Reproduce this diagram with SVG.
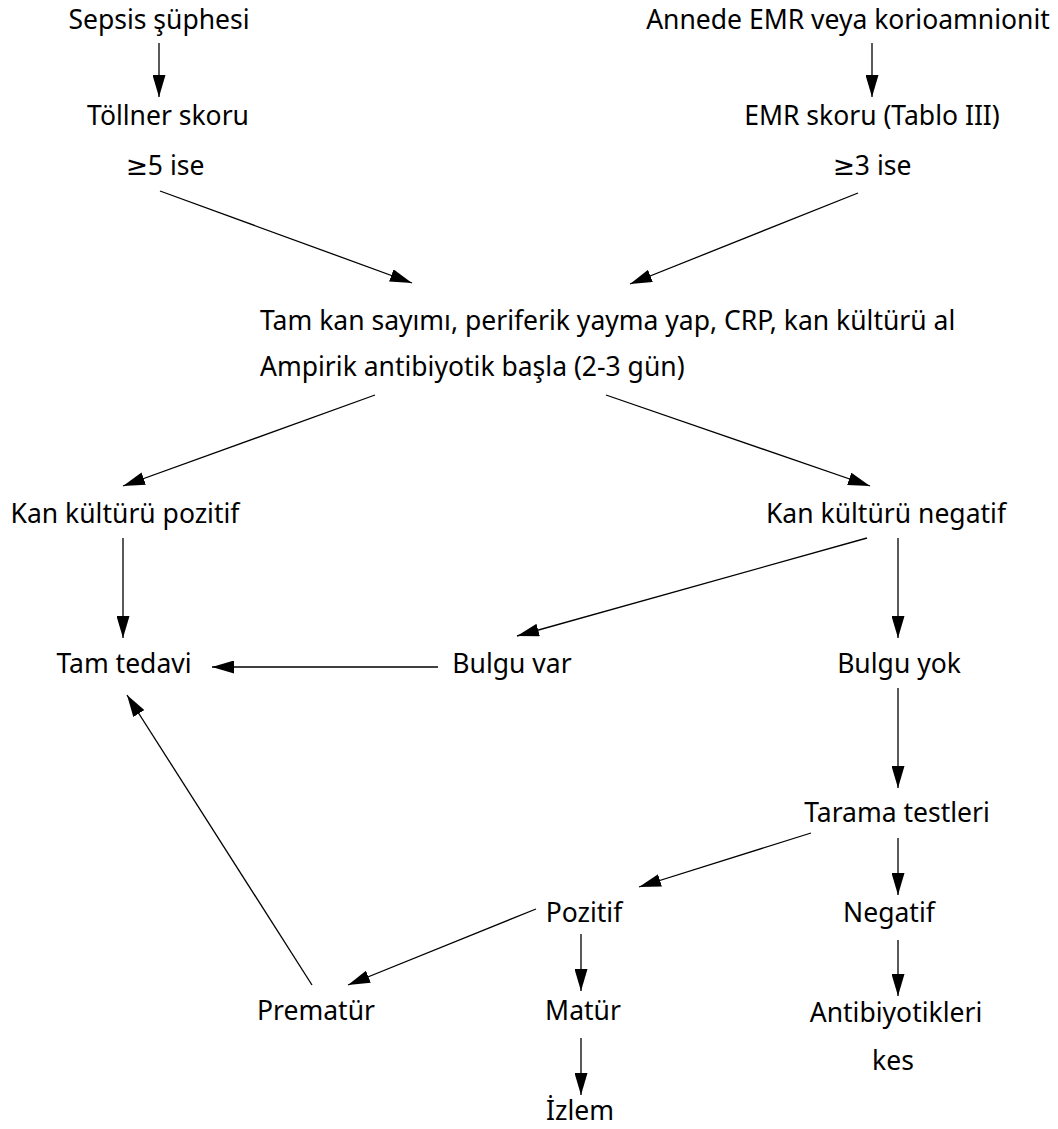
<svg xmlns="http://www.w3.org/2000/svg" width="1058" height="1129" viewBox="0 0 1058 1129">
<style>
text{font-family:"Noto Sans","DejaVu Sans",sans-serif;font-size:26.5px;fill:#000;text-anchor:middle}
text.l{text-anchor:start}
.c line{stroke:#000;stroke-width:1.3;marker-end:url(#ah)}
</style>
<defs>
<marker id="ah" markerUnits="userSpaceOnUse" markerWidth="22" markerHeight="13" refX="22" refY="6.5" orient="auto"><path d="M0,0 L22,6.5 L0,13 z" fill="#000"/></marker>
</defs>
<rect width="1058" height="1129" fill="#fff"/>
<g id="n-sepsis"><text x="159" y="29">Sepsis şüphesi</text></g>
<g id="n-tollner"><text x="168" y="125">Töllner skoru</text><text x="165" y="175">≥5 ise</text></g>
<g id="n-annede"><text x="848" y="29">Annede EMR veya korioamnionit</text></g>
<g id="n-emr"><text x="872" y="125">EMR skoru (Tablo III)</text><text x="872" y="175">≥3 ise</text></g>
<g id="n-tamkan"><text class="l" x="260" y="330">Tam kan sayımı, periferik yayma yap, CRP, kan kültürü al</text><text class="l" x="260" y="376">Ampirik antibiyotik başla (2-3 gün)</text></g>
<g id="n-pozitif-kultur"><text x="125" y="523">Kan kültürü pozitif</text></g>
<g id="n-negatif-kultur"><text x="886" y="523">Kan kültürü negatif</text></g>
<g id="n-tamtedavi"><text x="124" y="673">Tam tedavi</text></g>
<g id="n-bulguvar"><text x="512" y="673">Bulgu var</text></g>
<g id="n-bulguyok"><text x="899" y="673">Bulgu yok</text></g>
<g id="n-tarama"><text x="897" y="822">Tarama testleri</text></g>
<g id="n-pozitif"><text x="584" y="922">Pozitif</text></g>
<g id="n-negatif"><text x="889" y="922">Negatif</text></g>
<g id="n-prematur"><text x="316" y="1020">Prematür</text></g>
<g id="n-matur"><text x="583" y="1020">Matür</text></g>
<g id="n-antibiyotik"><text x="896" y="1022">Antibiyotikleri</text><text x="893" y="1070">kes</text></g>
<g id="n-izlem"><text x="580" y="1120">İzlem</text></g>
<g id="connectors" class="c">
<line x1="159" y1="43" x2="159" y2="97"/>
<line x1="872" y1="43" x2="872" y2="97"/>
<line x1="160" y1="191" x2="412" y2="283"/>
<line x1="858" y1="193" x2="630" y2="284"/>
<line x1="375" y1="395" x2="123" y2="486"/>
<line x1="606" y1="395" x2="870" y2="486"/>
<line x1="123" y1="538" x2="123" y2="638"/>
<line x1="898" y1="538" x2="898" y2="638"/>
<line x1="867" y1="538" x2="517" y2="636"/>
<line x1="438" y1="667" x2="212" y2="667"/>
<line x1="898" y1="688" x2="898" y2="788"/>
<line x1="898" y1="838" x2="898" y2="895"/>
<line x1="898" y1="940" x2="898" y2="996"/>
<line x1="811" y1="833" x2="639" y2="887"/>
<line x1="581" y1="934" x2="581" y2="991"/>
<line x1="581" y1="1038" x2="581" y2="1095"/>
<line x1="536" y1="909" x2="348" y2="985"/>
<line x1="312" y1="985" x2="127" y2="695"/>
</g>
</svg>
